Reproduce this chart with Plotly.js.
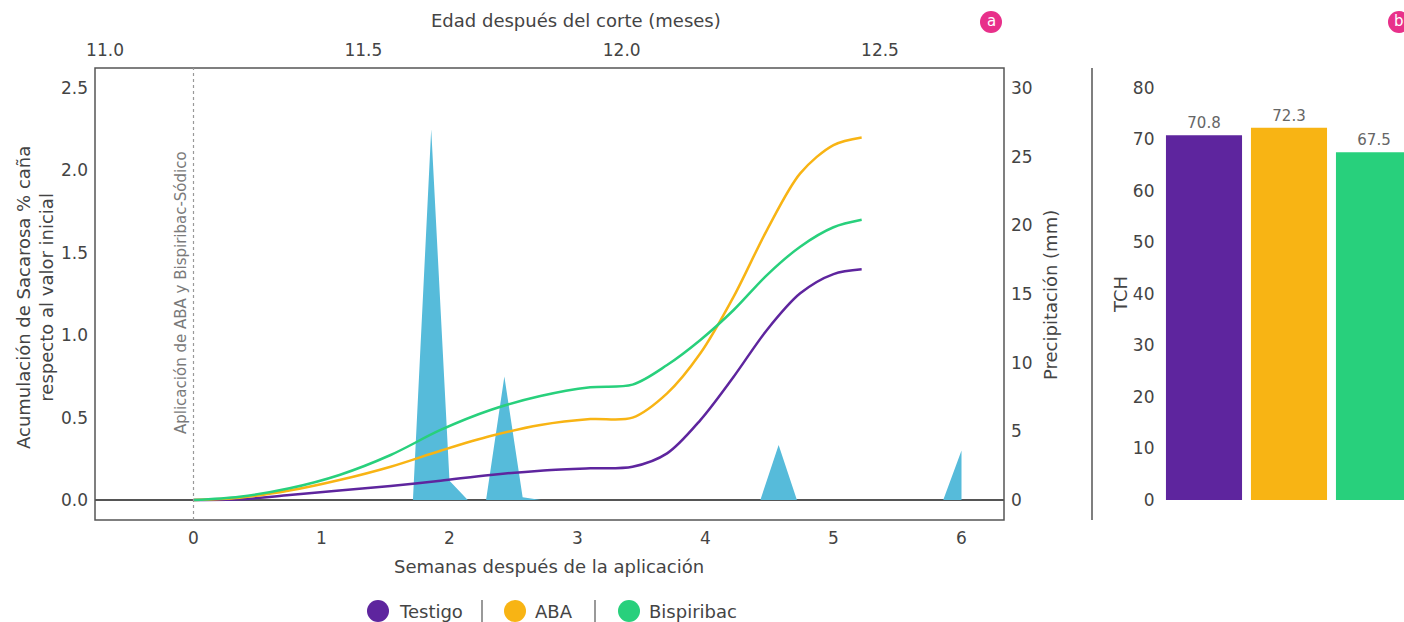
<!DOCTYPE html>
<html>
<head>
<meta charset="utf-8">
<script src="https://cdn.plot.ly/plotly-3.0.1.min.js"></script>
<style>html,body{margin:0;padding:0;background:#fff;}#chart{width:1404px;height:622px;}</style>
</head>
<body>
<div id="chart"></div>
<script>
// ---- data ----
const weeks = [0, 0.36, 0.75, 1.14, 1.54, 1.93, 2.32, 2.71, 3.10, 3.43, 3.70, 3.96, 4.22, 4.48, 4.74, 5.00, 5.22];
const testigo = [0, 0.004, 0.03, 0.057, 0.085, 0.117, 0.152, 0.178, 0.192, 0.202, 0.283, 0.485, 0.748, 1.032, 1.254, 1.371, 1.40];
const aba = [0, 0.014, 0.057, 0.121, 0.202, 0.299, 0.388, 0.455, 0.491, 0.50, 0.647, 0.89, 1.234, 1.638, 1.982, 2.154, 2.20];
const bispiribac = [0, 0.02, 0.071, 0.152, 0.273, 0.425, 0.546, 0.631, 0.684, 0.70, 0.819, 0.971, 1.153, 1.365, 1.537, 1.655, 1.70];

// daily precipitation (mm), day 0 .. day 42 after application
const rainDays = [0,1,2,3,4,5,6,7,8,9,10,11,12,13,14,15,16,17,18,19,20,21,22,23,24,25,26,27,28,29,30,31,32,33,34,35,36,37,38,39,40,41,42];
const rainMm   = [0,0,0,0,0,0,0,0,0,0,0,0,0,27,1.4,0,0,9,0.2,0,0,0,0,0,0,0,0,0,0,0,0.05,0,4,0,0,0,0,0,0,0,0,0,3.6];

const treatments = ['Testigo', 'ABA', 'Bispiribac'];
const tch = [70.8, 72.3, 67.5];
const colors = ['#5E259E', '#F8B414', '#28D07C'];
const rainColor = '#56BBDA';
const monthTicksRange = [11.0, 12.5];

// ---- helpers ----
const W = 1404, H = 622;
const px = v => v / W;
const py = v => 1 - v / H;
const FONT = 'DejaVu Sans, sans-serif';
const TXT = '#444444';

const traces = [
  { x: rainDays.map(d => d / 7), y: rainMm, xaxis: 'x', yaxis: 'y', type: 'scatter', mode: 'lines',
    line: { width: 0, color: rainColor }, fill: 'tozeroy', fillcolor: rainColor, hoverinfo: 'skip' },
  { x: weeks, y: testigo, xaxis: 'x', yaxis: 'y2', mode: 'lines', line: { color: colors[0], width: 2.5, shape: 'spline', smoothing: 0.9 } },
  { x: weeks, y: aba, xaxis: 'x', yaxis: 'y2', mode: 'lines', line: { color: colors[1], width: 2.5, shape: 'spline', smoothing: 0.9 } },
  { x: weeks, y: bispiribac, xaxis: 'x', yaxis: 'y2', mode: 'lines', line: { color: colors[2], width: 2.5, shape: 'spline', smoothing: 0.9 } },
  { x: monthTicksRange, y: [null, null], xaxis: 'x3', yaxis: 'y', mode: 'markers', hoverinfo: 'skip' },
  { x: treatments, y: tch, xaxis: 'x4', yaxis: 'y4', type: 'bar', marker: { color: colors },
    width: 0.895, texttemplate: '%{y:.1f}', textposition: 'outside', cliponaxis: false,
    textfont: { family: FONT, size: 15, color: '#666666' } }
];

const mainX = [px(95), px(1004)];
const mainY = [py(520), py(68)];
const tickFont = { family: FONT, size: 17, color: TXT };

const layout = {
  width: W, height: H,
  margin: { l: 0, r: 0, t: 0, b: 0 },
  paper_bgcolor: '#fff', plot_bgcolor: 'rgba(0,0,0,0)',
  showlegend: false, hovermode: false,
  font: { family: FONT, color: TXT },
  xaxis: { domain: mainX, range: [-0.7695, 6.332], anchor: 'y', tickvals: [0,1,2,3,4,5,6],
    showgrid: false, zeroline: false, showline: false, ticks: '', tickfont: tickFont, ticklabelstandoff: 6 },
  yaxis: { domain: mainY, range: [-1.456, 31.456], side: 'right', anchor: 'x', dtick: 5,
    showgrid: false, zeroline: false, showline: false, ticks: '', tickfont: tickFont, ticklabelstandoff: 6 },
  yaxis2: { overlaying: 'y', side: 'left', anchor: 'x', range: [-0.1214, 2.6214], dtick: 0.5, tickformat: '.1f',
    showgrid: false, zeroline: true, zerolinecolor: '#555', zerolinewidth: 1.5, showline: false, ticks: '',
    tickfont: tickFont, ticklabelstandoff: 6 },
  xaxis3: { overlaying: 'x', side: 'top', anchor: 'y', range: [10.9806, 12.740], dtick: 0.5, tick0: 11, tickformat: '.1f',
    showgrid: false, zeroline: false, showline: false, ticks: '', tickfont: tickFont, ticklabelstandoff: 8 },
  xaxis4: { domain: [px(1161.5), 1], anchor: 'y4', range: [-0.5, 2.353], showticklabels: false,
    showgrid: false, zeroline: false, showline: false, ticks: '' },
  yaxis4: { domain: mainY, anchor: 'x4', range: [-3.88, 83.88], dtick: 10, showgrid: false, zeroline: false,
    showline: false, ticks: '', tickfont: tickFont, ticklabelstandoff: 6 },
  shapes: [
    { type: 'rect', xref: 'paper', yref: 'paper', x0: px(95), x1: px(1004), y0: py(520), y1: py(68),
      line: { color: '#555', width: 1.5 } },
    { type: 'line', xref: 'x', yref: 'paper', x0: 0, x1: 0, y0: py(520), y1: py(68),
      line: { color: '#999', width: 1.2, dash: '3px,3px' } },
    { type: 'line', xref: 'paper', yref: 'paper', x0: px(1092), x1: px(1092), y0: py(520), y1: py(68),
      line: { color: '#555', width: 1.5 } },
    { type: 'circle', xref: 'paper', yref: 'paper', x0: px(980), x1: px(1002), y0: py(33), y1: py(11),
      fillcolor: '#E8308A', line: { width: 0 } },
    { type: 'circle', xref: 'paper', yref: 'paper', x0: px(1388), x1: px(1410), y0: py(33), y1: py(11),
      fillcolor: '#E8308A', line: { width: 0 } },
    { type: 'circle', xref: 'paper', yref: 'paper', x0: px(367), x1: px(389), y0: py(622), y1: py(600),
      fillcolor: colors[0], line: { width: 0 } },
    { type: 'circle', xref: 'paper', yref: 'paper', x0: px(504), x1: px(526), y0: py(622), y1: py(600),
      fillcolor: colors[1], line: { width: 0 } },
    { type: 'circle', xref: 'paper', yref: 'paper', x0: px(618), x1: px(640), y0: py(622), y1: py(600),
      fillcolor: colors[2], line: { width: 0 } },
    { type: 'line', xref: 'paper', yref: 'paper', x0: px(482), x1: px(482), y0: py(622), y1: py(600),
      line: { color: '#777', width: 1.5 } },
    { type: 'line', xref: 'paper', yref: 'paper', x0: px(595), x1: px(595), y0: py(622), y1: py(600),
      line: { color: '#777', width: 1.5 } }
  ],
  annotations: [
    { text: 'Edad después del corte (meses)', xref: 'paper', yref: 'paper', x: px(576), y: py(20),
      xanchor: 'center', yanchor: 'middle', showarrow: false, font: { family: FONT, size: 18, color: TXT } },
    { text: 'Semanas después de la aplicación', xref: 'paper', yref: 'paper', x: px(549), y: py(566),
      xanchor: 'center', yanchor: 'middle', showarrow: false, font: { family: FONT, size: 18, color: TXT } },
    { text: 'Acumulación de Sacarosa % caña<br>respecto al valor inicial', xref: 'paper', yref: 'paper',
      x: px(35), y: py(298), xanchor: 'center', yanchor: 'middle', textangle: -90, showarrow: false,
      font: { family: FONT, size: 18, color: TXT } },
    { text: 'Precipitación (mm)', xref: 'paper', yref: 'paper', x: px(1050), y: py(295),
      xanchor: 'center', yanchor: 'middle', textangle: -90, showarrow: false, font: { family: FONT, size: 18, color: TXT } },
    { text: 'TCH', xref: 'paper', yref: 'paper', x: px(1120), y: py(295),
      xanchor: 'center', yanchor: 'middle', textangle: -90, showarrow: false, font: { family: FONT, size: 18, color: TXT } },
    { text: 'Aplicación de ABA y Bispiribac-Sódico', xref: 'paper', yref: 'paper', x: px(181), y: py(293),
      xanchor: 'center', yanchor: 'middle', textangle: -90, showarrow: false, font: { family: FONT, size: 15, color: '#7a7a7a' } },
    { text: 'a', xref: 'paper', yref: 'paper', x: px(991), y: py(21), xanchor: 'center', yanchor: 'middle',
      showarrow: false, font: { family: FONT, size: 15, color: '#fff' } },
    { text: 'b', xref: 'paper', yref: 'paper', x: px(1399), y: py(21), xanchor: 'center', yanchor: 'middle',
      showarrow: false, font: { family: FONT, size: 15, color: '#fff' } },
    { text: 'Testigo', xref: 'paper', yref: 'paper', x: px(397), y: py(611), xanchor: 'left', yanchor: 'middle',
      showarrow: false, font: { family: FONT, size: 18, color: TXT } },
    { text: 'ABA', xref: 'paper', yref: 'paper', x: px(533), y: py(611), xanchor: 'left', yanchor: 'middle',
      showarrow: false, font: { family: FONT, size: 18, color: TXT } },
    { text: 'Bispiribac', xref: 'paper', yref: 'paper', x: px(647), y: py(611), xanchor: 'left', yanchor: 'middle',
      showarrow: false, font: { family: FONT, size: 18, color: TXT } }
  ]
};

Plotly.newPlot('chart', traces, layout, { staticPlot: true, displayModeBar: false });
</script>
</body>
</html>
